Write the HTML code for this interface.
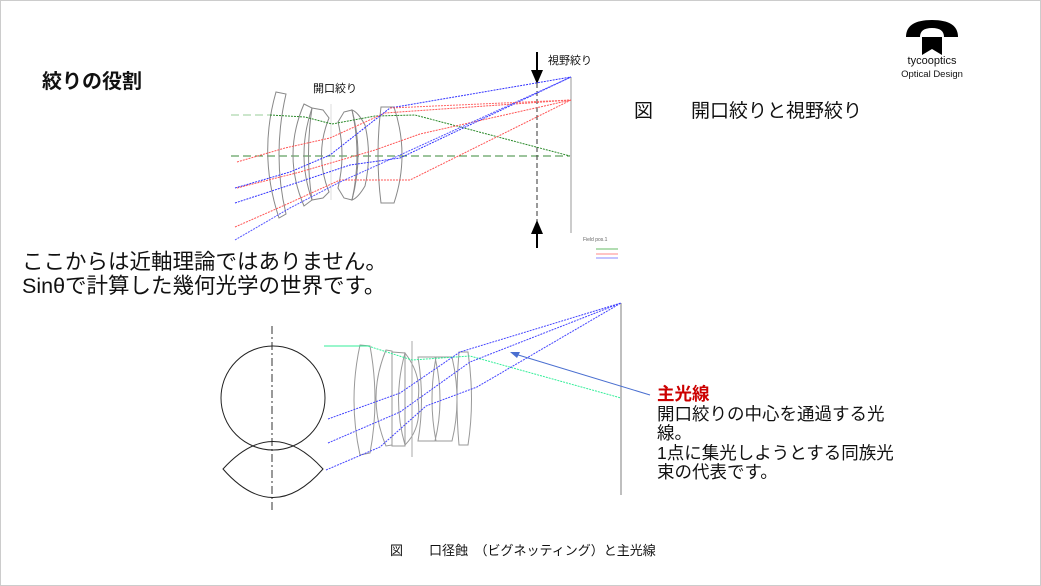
<!DOCTYPE html>
<html><head><meta charset="utf-8"><style>
html,body{margin:0;padding:0;background:#fff}
body{width:1041px;height:586px;position:relative;overflow:hidden;font-family:"Liberation Sans","Noto Sans CJK JP",sans-serif;color:#111}
.t{position:absolute;white-space:nowrap}
</style></head><body>
<div style="position:absolute;left:0;top:0;width:1039px;height:584px;border:1px solid #ccc"></div>
<svg width="1041" height="586" style="position:absolute;left:0;top:0" fill="none">
<path d="M906 37 Q906 20 932 20 Q958 20 958 37 L944 37 Q944 28 932 28 Q920 28 920 37 Z" fill="#000"/>
<path d="M922 37 L942 37 L942 55 L932 49 L922 55 Z" fill="#000"/>
<line x1="231" y1="156" x2="570" y2="156" stroke="#3a8a3a" stroke-dasharray="8,4"/>
<line x1="231" y1="115" x2="270" y2="115" stroke="#9c9" stroke-dasharray="8,4"/>
<line x1="571" y1="77" x2="571" y2="233" stroke="#999"/>
<line x1="537" y1="75" x2="537" y2="228" stroke="#333" stroke-dasharray="5,3"/>
<line x1="537" y1="52" x2="537" y2="72" stroke="#000" stroke-width="2"/>
<path d="M531 70 L543 70 L537 84 Z" fill="#000"/>
<line x1="537" y1="234" x2="537" y2="248" stroke="#000" stroke-width="2"/>
<path d="M531 234 L543 234 L537 220 Z" fill="#000"/>
<g stroke="#888" stroke-width="1">
<path d="M276 92 L286 94 Q272 155 286 214 L279 218 Q258 155 276 92 Z"/>
<path d="M304 104 L312 108 Q296 155 312 200 L304 206 Q282 155 304 104 Z"/>
<path d="M312 108 L323 110 L329 118 Q314 155 329 192 L323 198 L312 200 Q305 155 312 108 Z"/>
<path d="M344 112 L352 110 Q364 155 352 200 L344 198 L338 188 Q346 155 338 122 Z"/>
<path d="M352 110 Q358 112 365 125 Q372 155 365 186 Q358 198 352 200 Q362 155 352 110 Z"/>
<path d="M381 107 L394 107 Q410 155 394 203 L381 203 Q375 155 381 107 Z"/>
</g>
<line x1="331" y1="104" x2="331" y2="200" stroke="#ddd"/>
<g stroke-width="1" stroke-dasharray="2,1">
<path d="M270 115 L305 117 L332 124 L375 116 L415 115 L570 156" stroke="#2a8a2a"/>
<path d="M237 162 L285 148 L330 138 L385 113 L571 100" stroke="#f55"/>
<path d="M237 188 L300 172 L375 150 L420 134 L571 100" stroke="#f55"/>
<path d="M235 227 L285 205 L340 180 L410 180 L571 100" stroke="#f55"/>
<path d="M235 188 L290 172 L330 155 L390 108 L571 77" stroke="#33f"/>
<path d="M235 203 L290 185 L350 165 L400 158 L571 77" stroke="#33f"/>
<path d="M235 240 L290 208 L340 182 L400 155 L571 77" stroke="#55f"/>
<path d="M390 108 L571 100" stroke="#f66"/>
</g>
<line x1="596" y1="249" x2="618" y2="249" stroke="#6b6"/>
<line x1="596" y1="254" x2="618" y2="254" stroke="#f88"/>
<line x1="596" y1="258" x2="618" y2="258" stroke="#88f"/>
<line x1="272" y1="326" x2="272" y2="510" stroke="#333" stroke-dasharray="8,3,2,3"/>
<circle cx="273" cy="398" r="52" stroke="#222"/>
<path d="M223 469 Q273 414 323 469 Q273 526 223 469 Z" stroke="#222"/>
<line x1="621" y1="303" x2="621" y2="495" stroke="#aaa" stroke-width="1.5"/>
<g stroke="#999">
<path d="M360 345 L370 346 Q380 400 370 453 L360 455 Q348 400 360 345 Z"/>
<path d="M386 350 L392 351 L392 445 L386 446 Q366 398 386 350 Z"/>
<path d="M392 352 L405 353 L405 446 L392 446 Z"/>
<path d="M405 353 Q422 375 418 400 Q422 428 405 445 Q392 400 405 353 Z"/>
<path d="M418 357 L435 357 Q445 400 435 441 L418 441 Q425 400 418 357 Z"/>
<path d="M436 357 L452 357 Q462 400 452 441 L436 441 Q428 400 436 357 Z"/>
<path d="M459 352 L468 352 Q475 400 468 445 L459 445 Q455 400 459 352 Z"/>
</g>
<line x1="412" y1="341" x2="412" y2="457" stroke="#aaa"/>
<line x1="324" y1="346" x2="368" y2="346" stroke="#3e9"/>
<path d="M368 346 L412 360 L470 356 L621 398" stroke="#3e9" stroke-dasharray="2,1"/>
<g stroke="#44f" stroke-dasharray="2,1">
<path d="M328 419 L400 393 L460 352 L621 303"/>
<path d="M328 443 L400 412 L470 362 L621 303"/>
<path d="M326 470 L380 447 L426 406 L477 387 L621 303"/>
</g>
<line x1="650" y1="395" x2="515" y2="354" stroke="#4a6fd0"/>
<path d="M510 352 L520 352 L517 358 Z" fill="#4a6fd0"/>
</svg>
<div class="t" style="left:900px;top:55px;font-size:11px;width:64px;text-align:center">tycooptics</div>
<div class="t" style="left:892px;top:69px;font-size:9.5px;width:80px;text-align:center">Optical Design</div>
<div class="t" style="left:42px;top:65px;font-size:20px;font-weight:bold">絞りの役割</div>
<div class="t" style="left:313px;top:80px;font-size:11px">開口絞り</div>
<div class="t" style="left:548px;top:52px;font-size:11px">視野絞り</div>
<div class="t" style="left:634px;top:96px;font-size:19px">図　　開口絞りと視野絞り</div>
<div class="t" style="left:583px;top:237px;font-size:5px;color:#666">Field pos.1</div>
<div class="t" style="left:22px;top:250px;font-size:21.5px;line-height:24px">ここからは近軸理論ではありません。<br>Sinθで計算した幾何光学の世界です。</div>
<div class="t" style="left:657px;top:385px;font-size:17.5px;line-height:19.5px">
<span style="color:#c00;font-weight:bold">主光線</span><br>開口絞りの中心を通過する光<br>線。<br>1点に集光しようとする同族光<br>束の代表です。</div>
<div class="t" style="left:390px;top:540px;font-size:13px">図　　口径蝕　（ビグネッティング）と主光線</div>
</body></html>
